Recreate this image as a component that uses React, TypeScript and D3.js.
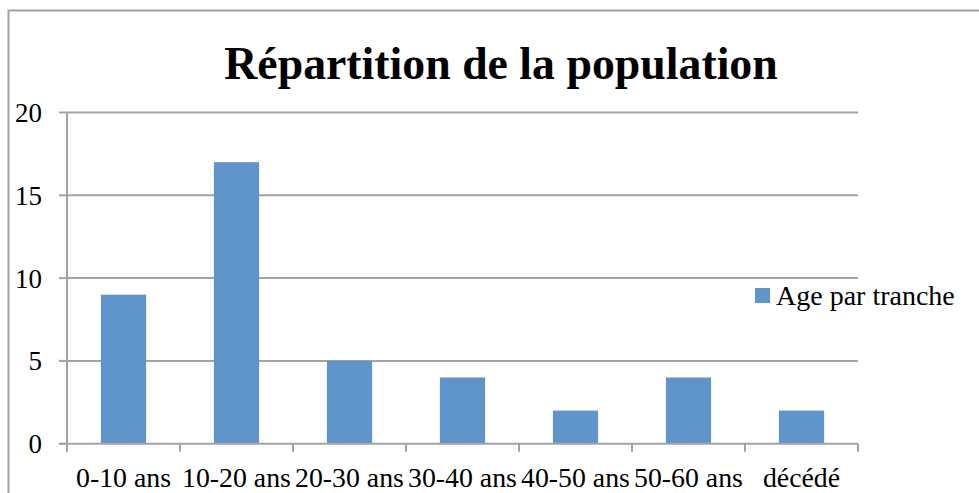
import { useMemo } from "react";
import * as d3 from "d3";

const categories = ["0-10 ans", "10-20 ans", "20-30 ans", "30-40 ans", "40-50 ans", "50-60 ans", "décédé"];
const values = [9, 17, 5, 4, 2, 4, 2];
const yTicks = [0, 5, 10, 15, 20];
const seriesName = "Age par tranche";
const title = "Répartition de la population";

const width = 979;
const height = 493;
const plot = { left: 67, right: 858, top: 112.5, bottom: 443.7 };
const barColor = "#6095cb";
const lineColor = "#a3a3a3";
const font = "Liberation Serif, Times New Roman, serif";

export default function App() {
    const x = useMemo(
        () => d3.scaleBand<string>().domain(categories).range([plot.left, plot.right]).padding(0),
        []
    );
    const y = useMemo(() => d3.scaleLinear().domain([0, 20]).range([plot.bottom, plot.top]), []);

    const barW = x.bandwidth() * 0.4;
    const tickXs = categories.map((c) => x(c)!).concat([plot.right]);
    const txt = { fontFamily: font };

    return (
        <svg width={width} height={height} style={{ position: "absolute", left: 0, top: 0, background: "#fff" }}>
            <rect x={8.5} y={10.5} width={1000} height={1000} fill="#fff" stroke={lineColor} strokeWidth={2} />

            <text x={501} y={79} textAnchor="middle" fontSize={45.8} fontWeight="bold" fill="#000" style={txt}>
                {title}
            </text>

            {/* gridlines + y ticks */}
            {yTicks.map((t) => (
                <g key={t}>
                    {t > 0 && (
                        <line x1={plot.left} x2={plot.right} y1={y(t)} y2={y(t)} stroke={lineColor} strokeWidth={2} />
                    )}
                    <line x1={59} x2={plot.left} y1={y(t)} y2={y(t)} stroke={lineColor} strokeWidth={2} />
                    <text x={42} y={y(t)} dy="0.35em" textAnchor="end" fontSize={27} fill="#000" style={txt}>
                        {t}
                    </text>
                </g>
            ))}

            {/* bars */}
            {categories.map((c, i) => (
                <rect
                    key={c}
                    x={x(c)! + (x.bandwidth() - barW) / 2}
                    y={y(values[i])}
                    width={barW}
                    height={y(0) - y(values[i])}
                    fill={barColor}
                />
            ))}

            {/* axes */}
            <line x1={plot.left} x2={plot.left} y1={plot.top} y2={plot.bottom + 8} stroke={lineColor} strokeWidth={2} />
            <line x1={59} x2={plot.right} y1={plot.bottom} y2={plot.bottom} stroke={lineColor} strokeWidth={2} />
            {tickXs.map((tx, i) => (
                <line key={i} x1={tx} x2={tx} y1={plot.bottom} y2={plot.bottom + 8} stroke={lineColor} strokeWidth={2} />
            ))}
            {categories.map((c) => (
                <text key={c} x={x(c)! + x.bandwidth() / 2} y={486.5} textAnchor="middle" fontSize={27.8} fill="#000" style={txt}>
                    {c}
                </text>
            ))}

            {/* legend */}
            <rect x={755} y={288} width={15} height={15} fill={barColor} />
            <text x={776} y={305} fontSize={28} fill="#000" style={txt}>
                {seriesName}
            </text>
        </svg>
    );
}
